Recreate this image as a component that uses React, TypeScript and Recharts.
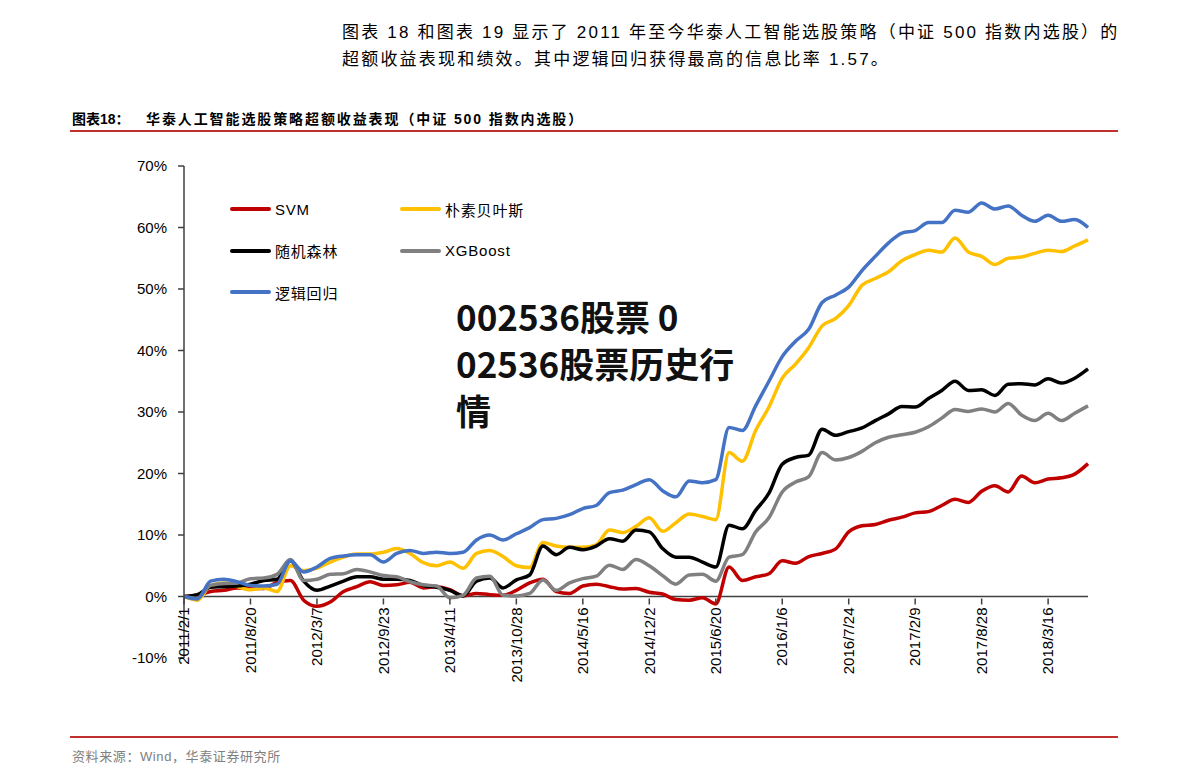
import { Legend, Line, LineChart, ReferenceLine, XAxis, YAxis } from "recharts";

const categories = [
  "2011/2/1", "2011/3/13", "2011/4/22", "2011/6/1", "2011/7/11",
  "2011/8/20", "2011/9/29", "2011/11/8", "2011/12/18", "2012/1/27",
  "2012/3/7", "2012/4/16", "2012/5/26", "2012/7/5", "2012/8/14",
  "2012/9/23", "2012/11/2", "2012/12/12", "2013/1/21", "2013/3/2",
  "2013/4/11", "2013/5/21", "2013/6/30", "2013/8/9", "2013/9/18",
  "2013/10/28", "2013/12/7", "2014/1/16", "2014/2/25", "2014/4/6",
  "2014/5/16", "2014/6/25", "2014/8/4", "2014/9/13", "2014/10/23",
  "2014/12/2", "2015/1/11", "2015/2/20", "2015/4/1", "2015/5/11",
  "2015/6/20", "2015/7/30", "2015/9/8", "2015/10/18", "2015/11/27",
  "2016/1/6", "2016/2/15", "2016/3/26", "2016/5/5", "2016/6/14",
  "2016/7/24", "2016/9/2", "2016/10/12", "2016/11/21", "2016/12/31",
  "2017/2/9", "2017/3/21", "2017/4/30", "2017/6/9", "2017/7/19",
  "2017/8/28", "2017/10/7", "2017/11/16", "2017/12/26", "2018/2/4",
  "2018/3/16", "2018/4/25", "2018/6/4", "2018/7/14",
];

// excess return, %
const svm = [
  0, 0.2, 0.8, 1.0, 1.4, 1.3, 1.3, 2.3, 2.6, -0.6,
  -1.6, -0.9, 0.8, 1.6, 2.4, 1.8, 1.9, 2.3, 1.4, 1.6,
  1.1, 0.1, 0.5, 0.3, 0.2, 1.0, 2.2, 2.8, 0.8, 0.5,
  1.7, 2.0, 1.6, 1.2, 1.3, 0.7, 0.4, -0.5, -0.6, -0.2,
  -1.2, 4.8, 2.6, 3.2, 3.7, 5.8, 5.4, 6.5, 7.0, 7.7,
  10.5, 11.5, 11.7, 12.4, 12.9, 13.6, 13.8, 14.8, 15.8, 15.3,
  17.1, 18.0, 17.0, 19.6, 18.5, 19.1, 19.3, 19.9, 21.6,
];
const bayes = [
  0, -0.6, 1.8, 2.2, 1.6, 1.1, 1.4, 0.8, 5.0, 4.2,
  4.6, 5.6, 6.4, 6.9, 6.9, 7.2, 7.8, 7.0, 5.5, 5.0,
  5.6, 4.6, 7.0, 7.5, 6.5, 5.0, 4.7, 8.8, 8.2, 8.0,
  8.0, 8.4, 10.8, 10.4, 11.4, 12.8, 10.6, 12.0, 13.4, 13.0,
  12.5, 23.4, 22.0, 27.0, 30.8, 35.5, 37.8, 40.5, 44.0, 45.2,
  47.3, 50.6, 51.7, 52.8, 54.6, 55.6, 56.3, 56.0, 58.3, 56.0,
  55.3, 54.0, 55.0, 55.2, 55.8, 56.3, 56.1, 57.0, 58.0,
];
const forest = [
  0, 0.3, 1.5, 1.6, 1.7, 2.0, 2.6, 2.8, 5.8, 2.5,
  1.0, 1.7, 2.5, 3.2, 3.2, 2.8, 2.8, 2.6, 1.8, 1.5,
  1.0, 0.1, 2.5, 3.0, 1.4, 2.7, 3.5, 8.2, 6.8, 8.0,
  7.6, 8.2, 9.4, 9.0, 10.8, 10.5, 7.8, 6.4, 6.4, 5.6,
  4.8, 11.6, 11.0, 14.0, 16.8, 21.5, 22.6, 23.0, 27.2, 26.2,
  26.8, 27.4, 28.6, 29.7, 30.9, 30.8, 32.2, 33.5, 35.0, 33.5,
  33.6, 32.7, 34.5, 34.6, 34.4, 35.4, 34.7, 35.5, 37.0,
];
const xgboost = [
  0, -0.3, 1.8, 2.1, 2.2, 2.9, 3.0, 3.6, 6.0, 2.6,
  2.8, 3.6, 3.7, 4.4, 4.0, 3.4, 3.2, 2.4, 1.9, 1.7,
  -0.2, 0.2, 3.0, 3.3, 0.2, 0.1, 0.5, 2.7, 1.0, 2.2,
  2.9, 3.3, 5.1, 4.4, 6.0, 5.0, 3.4, 2.0, 3.5, 3.6,
  2.5, 6.4, 6.8, 10.5, 12.8, 17.0, 18.6, 19.5, 23.4, 22.2,
  22.6, 23.6, 25.0, 25.9, 26.3, 26.7, 27.6, 29.0, 30.4, 30.1,
  30.5, 30.0, 31.4, 29.5, 28.6, 29.8, 28.6, 29.8, 31.0,
];
const logit = [
  0, -0.4, 2.5, 2.8, 2.4, 1.8, 1.7, 2.0, 5.8, 4.0,
  4.8, 6.2, 6.6, 6.8, 6.8, 5.6, 7.0, 7.5, 7.0, 7.2,
  7.0, 7.2, 9.2, 10.0, 9.2, 10.2, 11.2, 12.5, 12.7, 13.3,
  14.3, 14.8, 16.9, 17.3, 18.2, 19.0, 17.2, 16.2, 18.8, 18.5,
  19.0, 27.5, 27.0, 31.0, 35.0, 39.0, 41.5, 43.5, 47.8, 49.0,
  50.3, 53.0, 55.3, 57.5, 59.1, 59.5, 60.8, 60.8, 62.8, 62.5,
  64.0, 63.0, 63.5, 62.0, 61.0, 62.0, 61.0, 61.3, 60.0,
];

const yTicks = [-10, 0, 10, 20, 30, 40, 50, 60, 70];

const series = [
  { key: "svm", name: "SVM", color: "#c00000" },
  { key: "bayes", name: "朴素贝叶斯", color: "#ffc000" },
  { key: "forest", name: "随机森林", color: "#000000" },
  { key: "xgboost", name: "XGBoost", color: "#808080" },
  { key: "logit", name: "逻辑回归", color: "#4472c4" },
];

const data = categories.map((date, i) => ({
  date,
  svm: svm[i],
  bayes: bayes[i],
  forest: forest[i],
  xgboost: xgboost[i],
  logit: logit[i],
}));

const W = 1191;
const H = 783;
const Y_W = 60;
const X_H = 30;
const margin = { top: 166, right: 103, bottom: 95, left: 124 };
const Y_MIN = -10;
const Y_MAX = 70;
const plotH = H - margin.top - margin.bottom - X_H;
// the x axis sits on the 0% line, not at the bottom of the plot
const zeroShift = (plotH * (0 - Y_MIN)) / (Y_MAX - Y_MIN);

const latin = "'Liberation Sans', Arial, 'Noto Sans CJK SC', sans-serif";
const cjk = "'Liberation Sans', 'Noto Sans CJK SC', sans-serif";
const axisColor = "#404040";

function DateTick(props: any) {
  const { x, y, payload } = props;
  const base = y - zeroShift;
  return (
    <g transform={`translate(${x},${base})`}>
      <line x1={0} y1={0} x2={0} y2={6} stroke={axisColor} strokeWidth={1.5} />
      <text
        transform="rotate(-90)"
        x={-9}
        y={0}
        dy="0.35em"
        textAnchor="end"
        fontSize={15}
        fontFamily={latin}
        fill="#000"
      >
        {payload.value}
      </text>
    </g>
  );
}

function LegendBox(props: any) {
  const items = [...(props.payload || [])].sort(
    (a: any, b: any) =>
      series.findIndex((s) => s.name === a.value) - series.findIndex((s) => s.name === b.value),
  );
  // absolutely positioned so the legend takes no room from the plot
  return (
    <div style={{ position: "absolute", left: 0, top: 0, display: "grid", gridTemplateColumns: "170px 170px", rowGap: 19.5 }}>
      {items.map((it: any) => (
        <div key={it.value} style={{ display: "flex", alignItems: "center", height: 22 }}>
          <svg width={46} height={8}>
            <line x1={3} y1={4} x2={40} y2={4} stroke={it.color} strokeWidth={4} strokeLinecap="round" />
          </svg>
          <span style={{ fontSize: 15, fontFamily: cjk, color: "#000", letterSpacing: 0.8, whiteSpace: "nowrap" }}>{it.value}</span>
        </div>
      ))}
    </div>
  );
}

export default function App() {
  return (
    <div style={{ position: "absolute", left: 0, top: 0, width: W, height: H, background: "#fff", fontFamily: cjk }}>
      <div style={{ position: "absolute", left: 342, top: 19, fontSize: 17, letterSpacing: 2.2, lineHeight: "27px", color: "#000", whiteSpace: "nowrap" }}>
        <div>图表 18 和图表 19 显示了 2011 年至今华泰人工智能选股策略（中证 500 指数内选股）的</div>
        <div>超额收益表现和绩效。其中逻辑回归获得最高的信息比率 1.57。</div>
      </div>
      <div style={{ position: "absolute", left: 72, top: 108, fontSize: 14, fontWeight: "bold", color: "#000", whiteSpace: "nowrap" }}>
        图表18：
      </div>
      <div style={{ position: "absolute", left: 146, top: 108, fontSize: 14, fontWeight: "bold", color: "#000", whiteSpace: "nowrap", letterSpacing: 1.9 }}>
        华泰人工智能选股策略超额收益表现（中证 500 指数内选股）
      </div>
      <div style={{ position: "absolute", left: 70, top: 130, width: 1048, height: 1.5, background: "#c0302c" }} />
      <div style={{ position: "absolute", left: 0, top: 0 }}>
        <LineChart width={W} height={H} data={data} margin={margin}>
          <XAxis
            dataKey="date"
            scale="point"
            interval={4}
            axisLine={false}
            tickLine={false}
            tickSize={0}
            height={X_H}
            tick={<DateTick />}
          />
          <YAxis
            domain={[Y_MIN, Y_MAX]}
            ticks={yTicks}
            width={Y_W}
            tickFormatter={(v: number) => `${v}%`}
            axisLine={{ stroke: axisColor, strokeWidth: 1.5 }}
            tickLine={{ stroke: axisColor, strokeWidth: 1.5 }}
            tickSize={6}
            tickMargin={11}
            tick={{ fontSize: 15, fontFamily: latin, fill: "#000" }}
          />
          <ReferenceLine y={0} stroke={axisColor} strokeWidth={1.5} />
          <Legend
            verticalAlign="top"
            content={<LegendBox />}
            wrapperStyle={{ position: "absolute", left: 229, top: 198, width: 0, height: 0 }}
          />
          {series.map((s) => (
            <Line
              key={s.key}
              type="monotone"
              dataKey={s.key}
              name={s.name}
              stroke={s.color}
              strokeWidth={3.5}
              dot={false}
              isAnimationActive={false}
            />
          ))}
        </LineChart>
      </div>
      <div style={{ position: "absolute", left: 456, top: 292, fontSize: 35, fontWeight: "bold", lineHeight: "47px", color: "#111", fontFamily: "'Noto Sans CJK SC', sans-serif", whiteSpace: "nowrap" }}>
        <div>002536股票 0</div>
        <div>02536股票历史行</div>
        <div>情</div>
      </div>
      <div style={{ position: "absolute", left: 70, top: 736, width: 1048, height: 1.5, background: "#c0302c" }} />
      <div style={{ position: "absolute", left: 72, top: 746, fontSize: 13, color: "#808080", whiteSpace: "nowrap", letterSpacing: 0.6 }}>
        资料来源：Wind，华泰证券研究所
      </div>
    </div>
  );
}
